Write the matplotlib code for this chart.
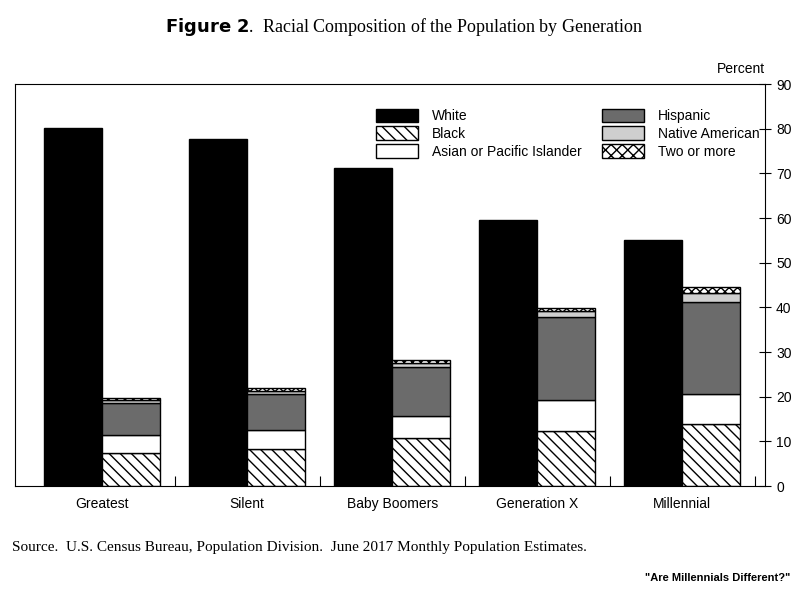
import matplotlib
matplotlib.use("Agg")
import matplotlib.pyplot as plt
from matplotlib.patches import Patch
import numpy as np

plt.rcParams['font.family'] = ['Liberation Sans', 'DejaVu Sans']
plt.rcParams['hatch.linewidth'] = 1.0

generations = ["Greatest", "Silent", "Baby Boomers", "Generation X", "Millennial"]
white = [80.1, 77.7, 71.2, 59.5, 55.1]
black = [7.45, 8.35, 10.8, 12.3, 13.8]
asian = [3.95, 4.15, 4.9, 6.95, 6.8]
hispanic = [7.2, 8.1, 10.9, 18.55, 20.5]
native = [0.7, 0.7, 0.9, 1.3, 2.2]
two = [0.3, 0.6, 0.7, 0.8, 1.2]
yticks = [0, 10, 20, 30, 40, 50, 60, 70, 80, 90]

fig = plt.figure(figsize=(8.08, 5.89), dpi=100)
ax = fig.add_axes([15/808, 103/589, 750/808, 402/589])
x = np.arange(len(generations))
w = 0.4
ax.bar(x - w/2, white, w, color='black', edgecolor='black', linewidth=1)
xs = x + w/2
bottom = np.zeros(len(x))
styles = [(black, 'white', '\\\\\\'), (asian, 'white', None), (hispanic, '#6b6b6b', None),
          (native, '#cfcfcf', None), (two, 'white', 'xxxx')]
for vals, col, h in styles:
    ax.bar(xs, vals, w, bottom=bottom, color=col, edgecolor='black', linewidth=1, hatch=h)
    bottom += np.array(vals)

ax.set_xlim(-0.6, 4.57)
ax.set_ylim(0, 90)
ax.yaxis.tick_right()
ax.set_yticks(yticks)
ax.tick_params(axis='y', direction='inout', length=8, labelsize=10, pad=4)
ax.set_xticks(x + 0.5)
ax.set_xticklabels([])
ax.tick_params(axis='x', direction='in', length=7)
for i, g in enumerate(generations):
    ax.text(i, -2.5, g, ha='center', va='top', fontsize=10)
ax.text(1.0, 1.02, "Percent", transform=ax.transAxes, ha='right', va='bottom', fontsize=10)
ax.text(-0.6, 90, "", fontsize=1)
ax.plot([0, 0], [0, 0])

handles1 = [Patch(facecolor='black', edgecolor='black', label='White'),
            Patch(facecolor='white', edgecolor='black', hatch='\\\\\\', label='Black'),
            Patch(facecolor='white', edgecolor='black', label='Asian or Pacific Islander'),
            Patch(facecolor='#6b6b6b', edgecolor='black', label='Hispanic'),
            Patch(facecolor='#cfcfcf', edgecolor='black', label='Native American'),
            Patch(facecolor='white', edgecolor='black', hatch='xxx', label='Two or more')]
ax.legend(handles=handles1, ncol=2, frameon=False, loc='upper left',
          bbox_to_anchor=(0.465, 0.97), fontsize=10, handlelength=3.0, handleheight=1.1,
          columnspacing=1.5, labelspacing=0.25, handletextpad=1.0)

fig.text(0.5, 0.955, r"$\mathbf{Figure\ 2}$.  Racial Composition of the Population by Generation",
         ha='center', va='center', fontsize=13, family='Liberation Serif')
fig.text(0.5, 0.96, "", ha='center')
fig.text(12/808, 1 - 548/589, "Source.  U.S. Census Bureau, Population Division.  June 2017 Monthly Population Estimates.",
         ha='left', va='center', fontsize=11, family='Liberation Serif')
fig.text(790/808, 1 - 578/589, '"Are Millennials Different?"', ha='right', va='center',
         fontsize=8, fontweight='bold')
fig.savefig("out.png", dpi=100)
